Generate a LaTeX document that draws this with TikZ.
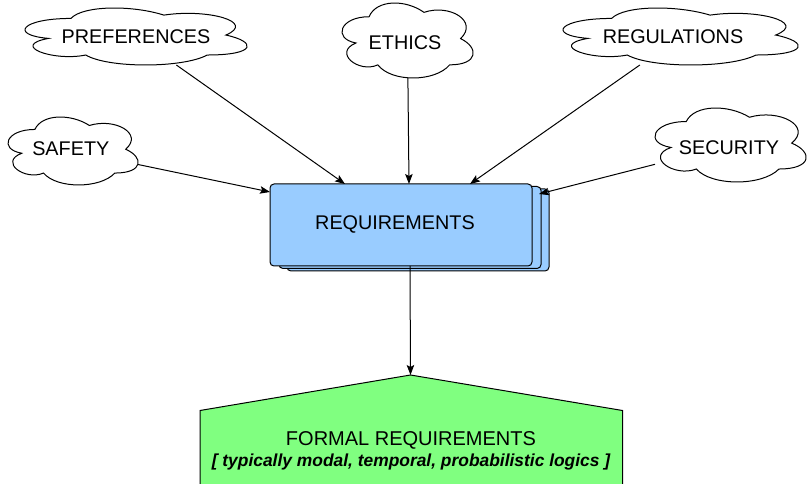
\documentclass[tikz,border=0pt]{standalone}
\usepackage{fontspec}
\setmainfont{Liberation Sans}
\usetikzlibrary{arrows.meta}

\definecolor{reqblue}{RGB}{153,204,255}
\definecolor{formalgreen}{RGB}{128,255,128}

% Cloud outline (mxGraph cloud path) around an area node #1,
% whose full frame is #2 x #3 (the visible outline is a bit smaller).
\newcommand\mxcloud[3]{%
  \draw[cloudline, shift={(#1.north west)}, x=#2pt, y=-#3pt, shift={(-0.065,-0.093)}]
    (0.25,0.25) .. controls (0.05,0.25) and (0,0.5) .. (0.16,0.55)
    .. controls (0,0.66) and (0.18,0.9) .. (0.31,0.8)
    .. controls (0.4,1) and (0.7,1) .. (0.8,0.8)
    .. controls (1,0.8) and (1,0.6) .. (0.875,0.5)
    .. controls (1,0.3) and (0.8,0.1) .. (0.625,0.2)
    .. controls (0.5,0.05) and (0.3,0.05) .. (0.25,0.25) -- cycle;}

\begin{document}
\begin{tikzpicture}[x=1pt,y=-1pt,
  every node/.style={inner sep=0pt, outer sep=0pt},
  lbl/.style={font=\fontsize{19.8}{23}\selectfont},
  area/.style={draw=none, rectangle},
  cloudline/.style={draw=black, line width=1pt},
  stackbox/.style={draw=black, line width=1pt, fill=reqblue, rounded corners=4pt,
                   minimum width=262pt, minimum height=82pt},
  formalshape/.style={draw=black, line width=1pt, fill=formalgreen},
  link/.style={draw=black, line width=1pt, -{Stealth[length=10pt,width=7.5pt,inset=2pt]}},
]
\useasboundingbox (0,0) rectangle (807,484);

% ---- clouds ----
\node[area, minimum width=222pt, minimum height=57pt] (pref) at (136,36.5) {};
\mxcloud{pref}{248}{66.5}
\node[lbl] (pref-t) at (136,36.7) {PREFERENCES};

\node[area, minimum width=131pt, minimum height=75pt] (ethics) at (407.5,40.5) {};
\mxcloud{ethics}{146.4}{87.5}
\node[lbl] (ethics-t) at (405,43) {ETHICS};

\node[area, minimum width=235pt, minimum height=57pt] (reg) at (680.5,36.5) {};
\mxcloud{reg}{262.6}{66.5}
\node[lbl] (reg-t) at (673,36.7) {REGULATIONS};

\node[area, minimum width=130pt, minimum height=68pt] (safety) at (73,151) {};
\mxcloud{safety}{145.3}{79.3}
\node[lbl] (safety-t) at (70.8,149) {SAFETY};

\node[area, minimum width=151pt, minimum height=74pt] (security) at (730.5,145) {};
\mxcloud{security}{168.7}{86.3}
\node[lbl] (security-t) at (729,147.5) {SECURITY};

% ---- stacked requirements box ----
\node[stackbox] (req3) at (418,230) {};
\node[stackbox] (req2) at (410,227.5) {};
\node[stackbox] (req) at (401,225) {};
\node[lbl] (req-t) at (395,224) {REQUIREMENTS};

% ---- formal requirements (house shape, running off the bottom) ----
\coordinate (apex) at (410.5,375);
\path[formalshape] (200,500) -- (200,410.5) -- (apex) -- (622.5,410.5) -- (622.5,500);
\node[align=center] (formal) at (411,451)
  {\fontsize{20}{22}\selectfont FORMAL REQUIREMENTS\\[3pt]
   \fontsize{17.4}{22}\selectfont\bfseries\itshape [ typically modal, temporal, probabilistic logics ]};

% ---- connectors ----
\draw[link] (pref) -- ([xshift=75pt]req.north west);
\draw[link] (ethics) -- ([xshift=139pt]req.north west);
\draw[link] (reg) -- ([xshift=200pt]req.north west);
\draw[link] (safety) -- ([yshift=-8pt]req.north west);
\draw[link] (security) -- ([xshift=7pt,yshift=-10pt]req.north east);
\draw[link] ([xshift=140pt]req.south west) -- (apex);
\end{tikzpicture}
\end{document}
